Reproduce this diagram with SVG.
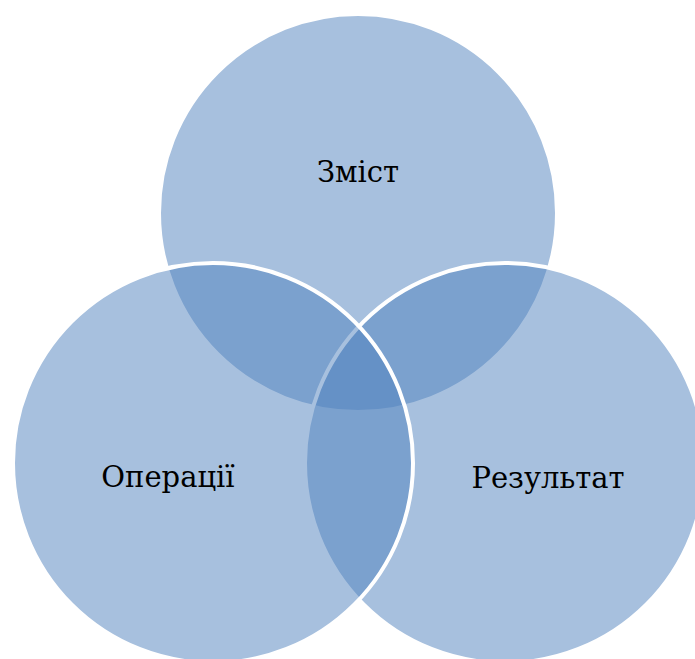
<svg xmlns="http://www.w3.org/2000/svg" width="695" height="659" viewBox="0 0 695 659">
<style>
.c{fill:#4f81bd;fill-opacity:0.5;stroke:#ffffff;stroke-width:4}
.t{font-family:"DejaVu Serif","Liberation Serif",serif;font-size:29px;fill:#000;text-anchor:middle}
</style>
<rect width="695" height="659" fill="#ffffff"/>
<g id="zmist"><circle class="c" cx="358" cy="213" r="199"/></g>
<g id="rezultat"><circle class="c" cx="505" cy="463" r="200"/></g>
<g id="operatsii"><circle class="c" cx="213" cy="463" r="200"/></g>
<g id="labels">
<text class="t" x="358" y="182">Зміст</text>
<text class="t" x="168" y="487">Операції</text>
<text class="t" x="548" y="488">Результат</text>
</g>
<g id="connectors"/>
</svg>
